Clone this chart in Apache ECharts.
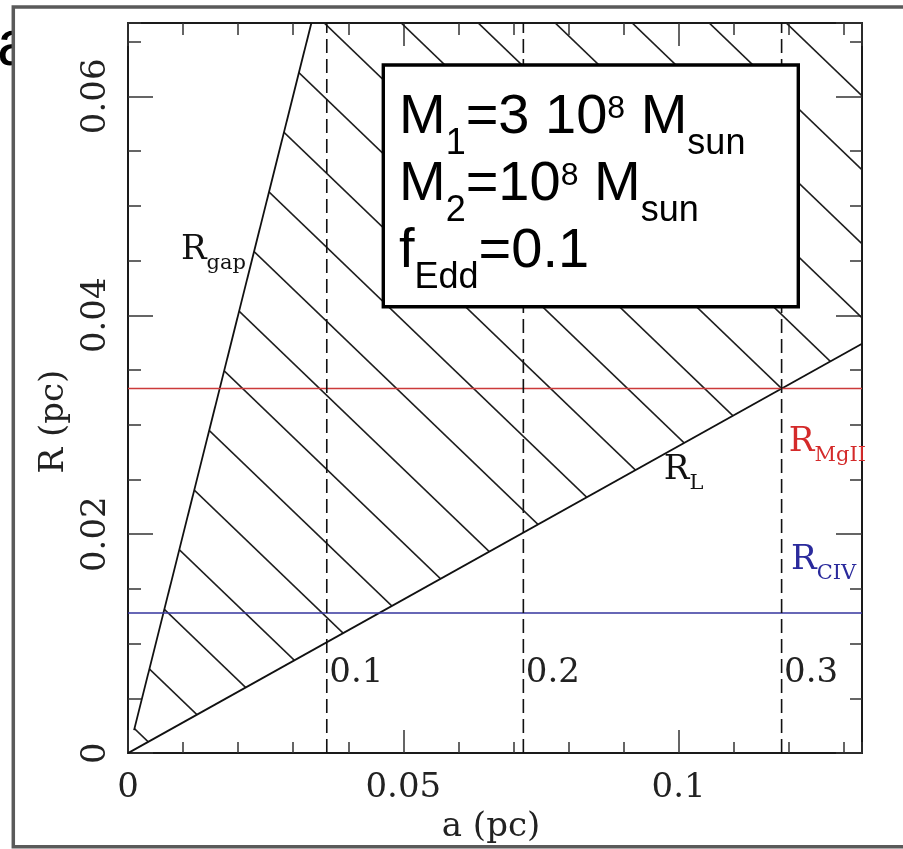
<!DOCTYPE html>
<html><head><meta charset="utf-8">
<script src="https://cdn.jsdelivr.net/npm/echarts@6/dist/echarts.min.js"></script>
<style>html,body{margin:0;padding:0;background:#fff}#c{width:903px;height:849px}</style>
</head><body><div id="c"></div>
<script>
// ---------------- values ----------------
const X_RANGE = [0, 0.1333];          // a (pc)
const Y_RANGE = [0, 0.0667];          // R (pc)
const X_MAJOR = 0.05, X_MINOR = 0.01;
const Y_MAJOR = 0.02, Y_MINOR = 0.005;
const rGapA = [0.0011, 0.0333];       // R_gap line end points (a)
const rGapR = [0.0021, 0.0667];       // R_gap line end points (R)
const rLA = [0, 0.1333];              // R_L line end points (a)
const rLR = [0, 0.0374];              // R_L line end points (R)
const rMgII = 0.0333;                 // R_MgII level
const rCIV = 0.0128;                  // R_CIV level
const sepA = [0.0361, 0.0718, 0.1187];      // dashed separations
const sepLabels = ['0.1', '0.2', '0.3'];
const boxLines = [
  '{m|M}{sb|1}{m|=3 10}{sp|8}{m| M}{sb|sun}',
  '{m|M}{sb|2}{m|=10}{sp|8}{m| M}{sb|sun}',
  '{m|f}{sb|Edd}{m|=0.1}'
];
const curveLabels = [
  {sub: 'gap',  color: '#111111'},
  {sub: 'L',    color: '#111111'},
  {sub: 'MgII', color: '#d42a2a'},
  {sub: 'CIV',  color: '#2a2a9c'}
];
// ---------------- layout (label anchors, styles) ----------------
const LABEL_ANCHORS = [[0.0098, 0.0449], [0.0975, 0.0248], [0.1202, 0.02734], [0.1206, 0.01659]];
const SERIF = '"DejaVu Serif", serif';
const SANS = '"Liberation Sans", Arial, sans-serif';
const RED = '#cc3a3a', BLUE = '#34349e', INK = '#1a1a1a';

function hatchTile(w, h, c0) {
  const cv = document.createElement('canvas');
  cv.width = w; cv.height = h;
  const ctx = cv.getContext('2d');
  ctx.strokeStyle = '#1e1e1e'; ctx.lineWidth = 1.6;
  for (let k = -2; k <= 2; k++) {
    const x0 = c0 + k * w;
    ctx.beginPath(); ctx.moveTo(x0 - w, -h); ctx.lineTo(x0 + 2 * w, 2 * h); ctx.stroke();
  }
  return cv;
}
const hatch = hatchTile(77, 74, 69.3);

const chart = echarts.init(document.getElementById('c'), null, {renderer: 'canvas'});

function xAxis(pos, interval, len, withLabel, withLine, name) {
  return {
    type: 'value', position: pos, min: X_RANGE[0], max: X_RANGE[1], interval: interval,
    gridIndex: 0,
    axisLine: {show: withLine, onZero: false, lineStyle: {color: INK, width: 2}},
    axisTick: {show: true, inside: true, length: len, lineStyle: {color: '#333', width: 1.5}},
    axisLabel: {show: withLabel, margin: 18, showMaxLabel: false, fontFamily: SERIF, fontSize: 34, color: '#222'},
    splitLine: {show: false},
    name: name || '', nameLocation: 'middle', nameGap: 53,
    nameTextStyle: {fontFamily: SERIF, fontSize: 34, color: '#222', padding: [0, 8, 0, 0]}
  };
}
function yAxis(pos, interval, len, withLabel, withLine, name) {
  return {
    type: 'value', position: pos, min: Y_RANGE[0], max: Y_RANGE[1], interval: interval,
    gridIndex: 0,
    axisLine: {show: withLine, onZero: false, lineStyle: {color: INK, width: 2}},
    axisTick: {show: true, inside: true, length: len, lineStyle: {color: '#333', width: 1.5}},
    axisLabel: {show: withLabel, margin: 15, rotate: 90, showMaxLabel: false, fontFamily: SERIF, fontSize: 34, color: '#222'},
    splitLine: {show: false},
    name: name || '', nameLocation: 'middle', nameGap: 55,
    nameTextStyle: {fontFamily: SERIF, fontSize: 34, color: '#222', padding: [0, 67, 0, 0]}
  };
}

const option = {
  animation: false,
  backgroundColor: '#ffffff',
  grid: {left: 128, right: 41, top: 23, bottom: 94, containLabel: false},
  xAxis: [
    xAxis('bottom', X_MAJOR, 23, true, true, 'a (pc)'),
    xAxis('bottom', X_MINOR, 11, false, false),
    xAxis('top', X_MAJOR, 23, false, true),
    xAxis('top', X_MINOR, 12, false, false)
  ],
  yAxis: [
    yAxis('left', Y_MAJOR, 25, true, true, 'R (pc)'),
    yAxis('left', Y_MINOR, 13, false, false),
    yAxis('right', Y_MAJOR, 26, false, true),
    yAxis('right', Y_MINOR, 12, false, false)
  ],
  series: [
    {
      type: 'custom', name: 'allowed region', z: 1, clip: true,
      data: [[0, 0]],
      renderItem: function (params, api) {
        const pts = [
          api.coord([rGapA[0], rGapR[0]]),
          api.coord([rGapA[1], rGapR[1]]),
          api.coord([X_RANGE[1], Y_RANGE[1]]),
          api.coord([rLA[1], rLR[1]]),
          api.coord([rLA[0], rLR[0]])
        ];
        return {type: 'polygon', shape: {points: pts}, style: {fill: {image: hatch, repeat: 'repeat'}, stroke: null}};
      }
    },
    {type: 'line', name: 'R_gap', z: 3, symbol: 'none', data: rGapA.map((a, i) => [a, rGapR[i]]),
      lineStyle: {color: '#111', width: 1.8}},
    {type: 'line', name: 'R_L', z: 3, symbol: 'none', data: rLA.map((a, i) => [a, rLR[i]]),
      lineStyle: {color: '#111', width: 1.8}},
    {type: 'line', name: 'R_MgII', z: 3, symbol: 'none', data: [[X_RANGE[0], rMgII], [X_RANGE[1], rMgII]],
      lineStyle: {color: RED, width: 1.5}},
    {type: 'line', name: 'R_CIV', z: 3, symbol: 'none', data: [[X_RANGE[0], rCIV], [X_RANGE[1], rCIV]],
      lineStyle: {color: BLUE, width: 1.5}},
    {
      type: 'custom', name: 'separations', z: 4, clip: false,
      data: sepA.map((a, i) => [a, i]),
      renderItem: function (params, api) {
        const a = api.value(0), i = api.value(1);
        const p0 = api.coord([a, Y_RANGE[0]]), p1 = api.coord([a, Y_RANGE[1]]);
        return {type: 'group', children: [
          {type: 'line', shape: {x1: p0[0], y1: p0[1], x2: p1[0], y2: p1[1]},
            style: {stroke: '#111', lineWidth: 1.6, lineDash: [14, 6]}},
          {type: 'text', x: p0[0] + 2.5, y: p0[1] - 68 - 11.8,
            style: {text: sepLabels[i], font: '34px ' + SERIF, fill: '#222', align: 'left', verticalAlign: 'middle'}}
        ]};
      }
    },
    {
      type: 'custom', name: 'curve labels', z: 5, clip: false,
      data: curveLabels.map((c, i) => [i]),
      renderItem: function (params, api) {
        const i = params.dataIndex;
        const c = curveLabels[i];
        const p = api.coord(LABEL_ANCHORS[i]);
        return {type: 'text', x: p[0] - 1, y: p[1] - 11.8,
          style: {
            text: '{r|R}{s|' + c.sub + '}', fill: c.color, align: 'left', verticalAlign: 'middle',
            rich: {
              r: {fontFamily: SERIF, fontSize: 34, lineHeight: 34, verticalAlign: 'middle', fill: c.color},
              s: {fontFamily: SERIF, fontSize: 21, lineHeight: 10, verticalAlign: 'top', padding: [20, 0, 0, 0], fill: c.color}
            }
          }};
      }
    }
  ],
  graphic: {elements: [
    {type: 'text', z: 0, x: -3, y: 47.8,
      style: {text: 'a', font: '64px ' + SANS, fill: '#000', align: 'left', verticalAlign: 'middle'}},
    {type: 'rect', z: 1, shape: {x: 15, y: 9, width: 60, height: 100}, style: {fill: '#fff', stroke: null}},
    {type: 'rect', z: 2, shape: {x: 13.3, y: 7, width: 1000, height: 839.7},
      style: {fill: null, stroke: '#5a5a5a', lineWidth: 3.5}},
    {type: 'rect', z: 10, shape: {x: 383.3, y: 65, width: 415, height: 241.7},
      style: {fill: '#fff', stroke: '#000', lineWidth: 3.4}},
    {type: 'text', z: 11, x: 399, y: 84.1,
      style: {
        text: boxLines.join('\n'), fill: '#000', align: 'left', verticalAlign: 'top',
        rich: {
          m: {fontFamily: SANS, fontSize: 56, lineHeight: 67, verticalAlign: 'middle', fill: '#000'},
          sb: {fontFamily: SANS, fontSize: 36, lineHeight: 20, verticalAlign: 'top', padding: [42, 0, 0, 0], fill: '#000'},
          sp: {fontFamily: SANS, fontSize: 32, lineHeight: 20, verticalAlign: 'top', padding: [9, 0, 0, 0], fill: '#000'}
        }
      }}
  ]}
};
chart.setOption(option);
</script>
</body></html>
